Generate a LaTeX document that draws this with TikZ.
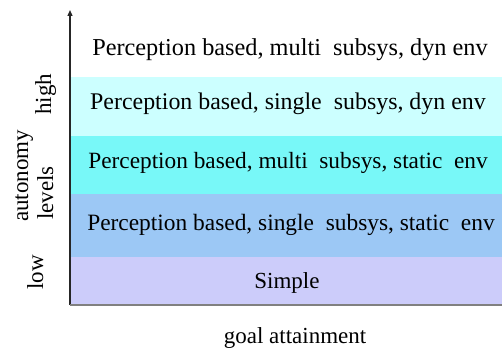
\documentclass[tikz,border=0pt]{standalone}
\usepackage{fontspec}
\setmainfont{Liberation Serif}
\usetikzlibrary{arrows.meta}
\definecolor{lvlA}{RGB}{204,255,255}
\definecolor{lvlB}{RGB}{120,248,248}
\definecolor{lvlC}{RGB}{156,200,245}
\definecolor{lvlD}{RGB}{204,204,250}
\newcommand{\fs}[1]{\fontsize{#1}{#1}\selectfont}
\begin{document}
\begin{tikzpicture}[x=1pt,y=-1pt,
  every node/.style={font=\fs{23}, inner sep=0pt},
  band/.style={minimum width=432pt, anchor=north west, draw=none},
  txt/.style={anchor=base},
  lbl/.style={rotate=90, anchor=base west}]
\useasboundingbox (0,0) rectangle (502,352);
% coloured levels, from the top
\node[band, fill=lvlA, minimum height=59pt] (l4) at (70,77) {};
\node[band, fill=lvlB, minimum height=58pt] (l3) at (70,136) {};
\node[band, fill=lvlC, minimum height=63pt] (l2) at (70,194) {};
\node[band, fill=lvlD, minimum height=48pt] (l1) at (70,257) {};
% level names
\node[txt, font=\fs{24.3}] (t5) at (290,56) {Perception based, multi\ \ subsys, dyn env};
\node[txt, font=\fs{23.9}] (t4) at (288,110) {Perception based, single\ \ subsys, dyn env};
\node[txt, font=\fs{23.3}] (t3) at (288,169) {Perception based, multi\ \ subsys, static\ \ env};
\node[txt, font=\fs{23.4}] (t2) at (291,230) {Perception based, single\ \ subsys, static\ \ env};
\node[txt] (t1) at (287,288) {Simple};
% axes
\coordinate (o) at (70,305);
\coordinate (top) at (70,10);
\coordinate (right) at (502,305);
\draw[line width=1.2pt, black!85, -{Triangle[length=6pt,width=5pt]}] (o) -- (top);
\draw[line width=2pt, black!50] (o) -- (right);
% axis labels
\node[lbl] (ylab1) at (28,222) {autonomy};
\node[lbl] (ylab2) at (53,220) {levels};
\node[lbl] (hi) at (51,115) {high};
\node[lbl] (lo) at (43,290) {low};
\node[txt] (xlab) at (295,343) {goal attainment};
\end{tikzpicture}
\end{document}
